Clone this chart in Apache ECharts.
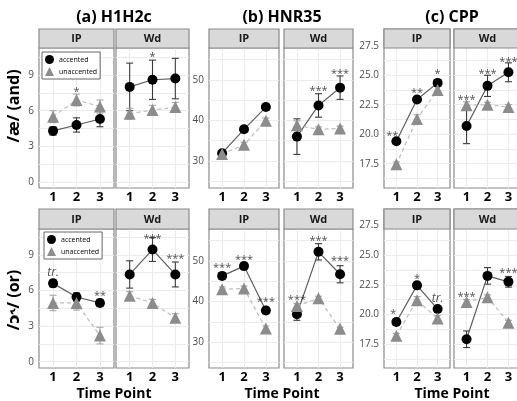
<!DOCTYPE html>
<html>
<head>
<meta charset="utf-8">
<script src="https://cdn.jsdelivr.net/npm/echarts@6/dist/echarts.min.js"></script>
<style>
html, body { margin: 0; padding: 0; background: #fff; }
#chart { width: 517px; height: 401px; }
</style>
</head>
<body>
<div id="chart"></div>
<script>
const timePoints = [1, 2, 3]

// each entry: [mean, error bar half-width]
// /æ/ (and)
const andH1IP_acc = [[4.3, 0.35], [4.8, 0.6], [5.3, 0.65]]
const andH1IP_un = [[5.5, 0.5], [6.9, 0.5], [6.35, 0.55]]
const andH1Wd_acc = [[8.0, 2.0], [8.6, 1.65], [8.7, 1.7]]
const andH1Wd_un = [[5.75, 0.45], [6.05, 0.4], [6.3, 0.4]]
const andHnrIP_acc = [[31.9, 0.6], [37.8, 0.7], [43.3, 0.8]]
const andHnrIP_un = [[31.7, 0.6], [34.0, 0.6], [39.9, 0.7]]
const andHnrWd_acc = [[36.0, 4.4], [43.7, 2.9], [48.1, 2.9]]
const andHnrWd_un = [[38.8, 1.1], [37.8, 0.6], [38.0, 0.6]]
const andCppIP_acc = [[19.4, 0.2], [22.95, 0.25], [24.35, 0.25]]
const andCppIP_un = [[17.45, 0.2], [21.3, 0.35], [23.75, 0.35]]
const andCppWd_acc = [[20.7, 1.5], [24.1, 0.9], [25.25, 0.8]]
const andCppWd_un = [[22.45, 0.3], [22.5, 0.2], [22.3, 0.2]]
// /ɔ˞/ (or)
const orH1IP_acc = [[6.6, 0.3], [5.45, 0.35], [4.95, 0.3]]
const orH1IP_un = [[4.95, 0.65], [4.95, 0.6], [2.2, 0.7]]
const orH1Wd_acc = [[7.35, 1.15], [9.45, 1.0], [7.35, 1.05]]
const orH1Wd_un = [[5.55, 0.35], [4.95, 0.3], [3.7, 0.35]]
const orHnrIP_acc = [[46.3, 0.8], [48.7, 0.8], [37.8, 0.8]]
const orHnrIP_un = [[43.0, 0.6], [43.2, 0.6], [33.4, 0.6]]
const orHnrWd_acc = [[36.9, 1.5], [52.2, 2.0], [46.7, 2.1]]
const orHnrWd_un = [[38.9, 0.6], [40.8, 0.5], [33.3, 0.4]]
const orCppIP_acc = [[19.35, 0.25], [22.45, 0.2], [20.45, 0.25]]
const orCppIP_un = [[18.2, 0.2], [21.2, 0.3], [19.65, 0.25]]
const orCppWd_acc = [[17.9, 0.7], [23.25, 0.7], [22.75, 0.45]]
const orCppWd_un = [[21.05, 0.2], [21.45, 0.2], [19.3, 0.2]]

// significance marks: [time point, y, text]
const andH1IP_sig = [[2, 7.87, '*']]
const andH1Wd_sig = [[2, 10.8, '*']]
const andHnrIP_sig = []
const andHnrWd_sig = [[2, 48.0, '***'], [3, 52.3, '***']]
const andCppIP_sig = [[0.8, 20.14, '**'], [2, 23.8, '**'], [3, 25.37, '*']]
const andCppWd_sig = [[1, 23.16, '***'], [2, 25.37, '***'], [3, 26.4, '***']]
const orH1IP_sig = [[1, 7.53, 'tr.'], [3, 5.76, '**']]
const orH1Wd_sig = [[2, 10.6, '***'], [3, 8.9, '***']]
const orHnrIP_sig = [[1, 48.9, '***'], [2, 50.9, '***'], [3, 40.6, '***']]
const orHnrWd_sig = [[1, 41.2, '***'], [2, 55.6, '***'], [3, 50.6, '***']]
const orCppIP_sig = [[0.85, 20.28, '*'], [2, 23.23, '*'], [3, 21.3, 'tr.']]
const orCppWd_sig = [[1, 21.7, '***'], [3, 23.73, '***']]

// y tick labels and grid lines (major + minor)
const h1Ticks = [0, 3, 6, 9]
const h1Grid = [0, 1.5, 3, 4.5, 6, 7.5, 9, 10.5]
const hnrTicks = [30, 40, 50]
const hnrGrid = [25, 30, 35, 40, 45, 50, 55]
const cppTicks = [17.5, 20, 22.5, 25, 27.5]
const cppGrid = [16.25, 17.5, 18.75, 20, 21.25, 22.5, 23.75, 25, 26.25, 27.5, 28.75]

const titles = ['(a) H1H2c', '(b) HNR35', '(c) CPP']
const rowTitles = ['/æ/ (and)', '/ɔ˞/ (or)']
const contexts = ['IP', 'Wd']

// layout
const rowLayout = [
    { strip: 29, top: 48, bottom: 188 },
    { strip: 209, top: 229, bottom: 368 }
]
const colLayout = [[39, 114, 116, 189], [209, 279, 284, 353], [384, 450, 454, 521]]
const yRanges = [
    [[-0.5, 11.27], [-0.53, 11.18]],
    [[23.3, 57.9], [23.7, 57.8]],
    [[15.44, 28.92], [15.47, 28.9]]
]
const yAxisSets = [[h1Ticks, h1Grid], [hnrTicks, hnrGrid], [cppTicks, cppGrid]]

const panels = [
    [0, 0, 0, andH1IP_acc, andH1IP_un, andH1IP_sig],
    [0, 0, 1, andH1Wd_acc, andH1Wd_un, andH1Wd_sig],
    [0, 1, 0, andHnrIP_acc, andHnrIP_un, andHnrIP_sig],
    [0, 1, 1, andHnrWd_acc, andHnrWd_un, andHnrWd_sig],
    [0, 2, 0, andCppIP_acc, andCppIP_un, andCppIP_sig],
    [0, 2, 1, andCppWd_acc, andCppWd_un, andCppWd_sig],
    [1, 0, 0, orH1IP_acc, orH1IP_un, orH1IP_sig],
    [1, 0, 1, orH1Wd_acc, orH1Wd_un, orH1Wd_sig],
    [1, 1, 0, orHnrIP_acc, orHnrIP_un, orHnrIP_sig],
    [1, 1, 1, orHnrWd_acc, orHnrWd_un, orHnrWd_sig],
    [1, 2, 0, orCppIP_acc, orCppIP_un, orCppIP_sig],
    [1, 2, 1, orCppWd_acc, orCppWd_un, orCppWd_sig]
]

const FONT = '"Open Sans", "DejaVu Sans", sans-serif'

function renderErr(params, api) {
    const x = api.value(0), m = api.value(1), e = api.value(2)
    const top = api.coord([x, m + e])
    const bot = api.coord([x, m - e])
    const w = 3.5
    const style = { stroke: api.visual('color'), lineWidth: 1.1, fill: null }
    return {
        type: 'group',
        children: [
            { type: 'line', shape: { x1: top[0], y1: top[1], x2: bot[0], y2: bot[1] }, style: style },
            { type: 'line', shape: { x1: top[0] - w, y1: top[1], x2: top[0] + w, y2: top[1] }, style: style },
            { type: 'line', shape: { x1: bot[0] - w, y1: bot[1], x2: bot[0] + w, y2: bot[1] }, style: style }
        ]
    }
}

const grids = [], xAxes = [], yAxes = [], series = [], graphics = []

panels.forEach((p, i) => {
    const [row, col, ctx, acc, un, sig] = p
    const R = rowLayout[row], C = colLayout[col]
    const left = ctx === 0 ? C[0] : C[2]
    const right = ctx === 0 ? C[1] : C[3]
    const gridTop = col === 2 ? R.strip : R.top
    const yr = yRanges[col][row]
    const [ticks, gridVals] = yAxisSets[col]

    grids.push({
        left: left, top: gridTop, width: right - left, height: R.bottom - gridTop,
        show: true, backgroundColor: '#fff', borderColor: '#8a8a8a', borderWidth: 1.2,
        containLabel: false, outerBoundsMode: 'none'
    })
    xAxes.push({
        type: 'value', gridIndex: i, min: 0.4, max: 3.6,
        axisLine: { show: false },
        axisTick: { show: false, customValues: timePoints },
        axisLabel: { customValues: timePoints, margin: 3, color: '#000', fontWeight: 'bold', fontSize: 13, fontFamily: FONT },
        splitLine: { show: true, lineStyle: { color: '#ebebeb', width: 1 } }
    })
    yAxes.push({
        type: 'value', gridIndex: i, min: yr[0], max: yr[1],
        axisLine: { show: false },
        axisTick: { show: false, customValues: gridVals },
        axisLabel: {
            show: ctx === 0, customValues: ticks, margin: 5, color: '#4d4d4d', fontSize: 10, fontFamily: FONT,
            formatter: v => col === 2 ? v.toFixed(1) : String(v)
        },
        splitLine: { show: true, lineStyle: { color: '#ebebeb', width: 1 } }
    })

    series.push({
        type: 'custom', name: 'accented-err', xAxisIndex: i, yAxisIndex: i, renderItem: renderErr,
        itemStyle: { color: '#3a3a3a' }, silent: true, z: 2,
        data: acc.map((d, k) => [timePoints[k], d[0], d[1]])
    })
    series.push({
        type: 'custom', name: 'unaccented-err', xAxisIndex: i, yAxisIndex: i, renderItem: renderErr,
        itemStyle: { color: '#a6a6a6' }, silent: true, z: 2,
        data: un.map((d, k) => [timePoints[k], d[0], d[1]])
    })
    series.push({
        type: 'line', name: 'accented', xAxisIndex: i, yAxisIndex: i, z: 3,
        symbol: 'circle', symbolSize: 10,
        itemStyle: { color: '#000' },
        lineStyle: { color: '#5e5e5e', width: 1.2 },
        data: acc.map((d, k) => [timePoints[k], d[0]])
    })
    series.push({
        type: 'line', name: 'unaccented', xAxisIndex: i, yAxisIndex: i, z: 3,
        symbol: 'triangle', symbolSize: 12,
        itemStyle: { color: '#8c8c8c' },
        lineStyle: { color: '#bdbdbd', width: 1.2, type: [4, 3] },
        data: un.map((d, k) => [timePoints[k], d[0]])
    })
    series.push({
        type: 'scatter', name: 'sig', xAxisIndex: i, yAxisIndex: i, z: 4, silent: true,
        symbolSize: 1, itemStyle: { color: 'rgba(0,0,0,0)' },
        data: sig.map(s => ({
            value: [s[0], s[1]],
            label: {
                show: true, position: 'inside', formatter: s[2], color: '#262626',
                fontFamily: FONT,
                fontSize: s[2] === 'tr.' ? 12 : 11,
                fontStyle: s[2] === 'tr.' ? 'italic' : 'normal',
                offset: s[2] === 'tr.' ? [0, 0] : [0, 3]
            }
        }))
    })

    // facet strip
    graphics.push({
        type: 'rect', z: 100,
        shape: { x: left, y: R.strip, width: right - left, height: R.top - R.strip },
        style: { fill: '#d9d9d9', stroke: '#8a8a8a', lineWidth: 1.2 }
    })
    graphics.push({
        type: 'text', z: 101, x: (left + right) / 2, y: (R.strip + R.top) / 2 + 0.5,
        style: {
            text: contexts[ctx], font: 'bold 11px ' + FONT, fill: '#1a1a1a',
            textAlign: 'center', textVerticalAlign: 'middle', align: 'center', verticalAlign: 'middle'
        }
    })
})

// column titles and x axis titles
const colCenters = [114, 282, 452]
titles.forEach((t, c) => {
    graphics.push({
        type: 'text', z: 101, x: colCenters[c], y: 17,
        style: { text: t, font: 'bold 16px ' + FONT, fill: '#000', textAlign: 'center', textVerticalAlign: 'middle', align: 'center', verticalAlign: 'middle' }
    })
    graphics.push({
        type: 'text', z: 101, x: colCenters[c], y: 394,
        style: { text: 'Time Point', font: 'bold 14px ' + FONT, fill: '#000', textAlign: 'center', textVerticalAlign: 'middle', align: 'center', verticalAlign: 'middle' }
    })
})
// row titles (y axis)
const rowCenters = [106, 300]
rowTitles.forEach((t, r) => {
    graphics.push({
        type: 'text', z: 101, x: 14, y: rowCenters[r], rotation: Math.PI / 2,
        style: { text: t, font: 'bold 16px ' + FONT, fill: '#000', textAlign: 'center', textVerticalAlign: 'middle', align: 'center', verticalAlign: 'middle' }
    })
})

const legendData = [{ name: 'accented', icon: 'circle' }, { name: 'unaccented', icon: 'triangle' }]
const legendBase = {
    data: legendData, orient: 'vertical', z: 50,
    itemWidth: 9, itemHeight: 9, itemGap: 3, padding: [3, 3],
    borderColor: '#666', borderWidth: 1, backgroundColor: '#fff',
    textStyle: { fontSize: 7, color: '#000', fontFamily: FONT }, selectedMode: false
}

const option = {
    animation: false,
    backgroundColor: '#fff',
    legend: [
        Object.assign({}, legendBase, { left: 42, top: 52 }),
        Object.assign({}, legendBase, { left: 44, top: 232 })
    ],
    grid: grids,
    xAxis: xAxes,
    yAxis: yAxes,
    series: series,
    graphic: { elements: graphics }
}

const myChart = echarts.init(document.getElementById('chart'), null, { renderer: 'canvas' })
myChart.setOption(option)
window.addEventListener('resize', myChart.resize)
</script>
</body>
</html>
